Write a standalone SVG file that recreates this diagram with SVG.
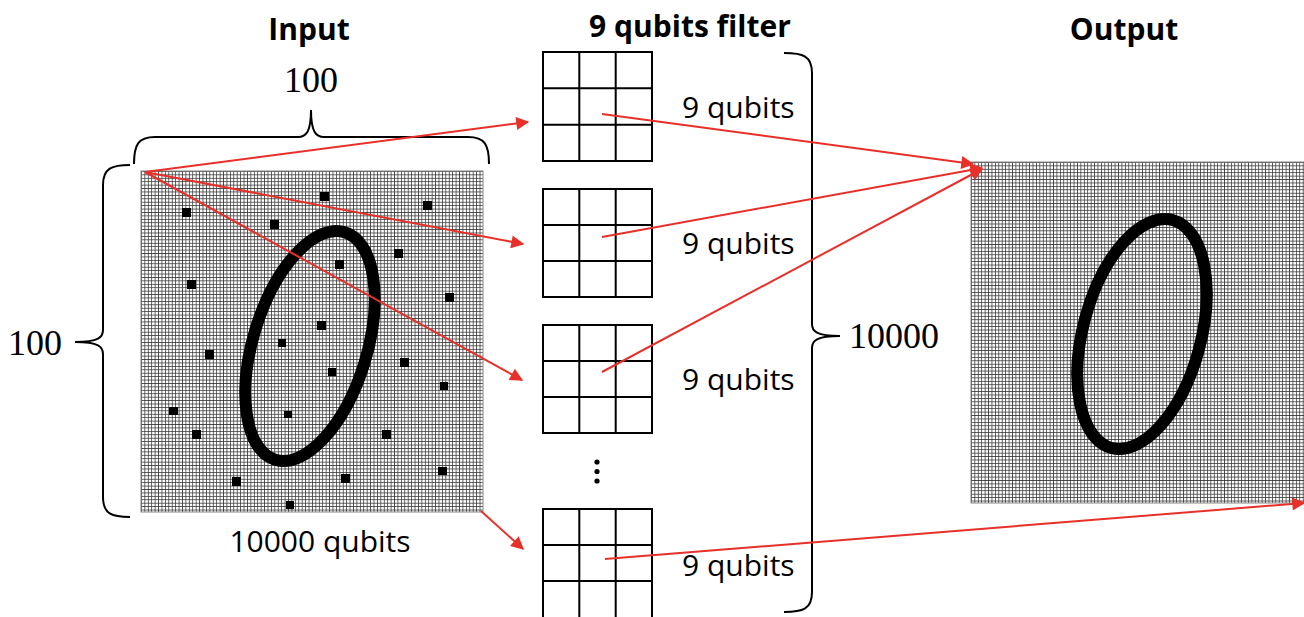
<svg xmlns="http://www.w3.org/2000/svg" width="1304" height="617" viewBox="0 0 1304 617">
<defs>
<pattern id="grid" patternUnits="userSpaceOnUse" width="3.42" height="3.42" x="141" y="171">
<path d="M0 0.4H3.42M0.4 0V3.42" stroke="#333" stroke-width="0.8" fill="none"/>
</pattern>
<pattern id="grid2" patternUnits="userSpaceOnUse" width="3.42" height="3.42" x="971" y="162">
<path d="M0 0.4H3.42M0.4 0V3.42" stroke="#333" stroke-width="0.8" fill="none"/>
</pattern>
<marker id="ah" viewBox="0 0 10 10" refX="9" refY="5" markerWidth="8" markerHeight="6.5" markerUnits="strokeWidth" orient="auto">
<path d="M0 0L10 5L0 10Z" fill="#e8302a"/>
</marker>
</defs>
<style>
.title{font-family:"Open Sans","Liberation Sans",sans-serif;font-weight:bold;font-size:30px;fill:#000;text-anchor:middle}
.lbl{font-family:"Open Sans","Liberation Sans",sans-serif;font-size:30px;fill:#000}
.num{font-family:"Liberation Serif","DejaVu Serif",serif;font-size:36px;fill:#000;text-anchor:middle}
.brace{fill:none;stroke:#000;stroke-width:2}
.fbox{fill:#fff;stroke:#000;stroke-width:2}
.arr{fill:none;stroke:#e8302a;stroke-width:2;marker-end:url(#ah)}
.px{fill:#000}
</style>
<rect width="1304" height="617" fill="#fff"/>

<g id="titles">
<text class="title" x="309" y="40">Input</text>
<text class="title" x="690" y="37">9 qubits filter</text>
<text class="title" x="1124" y="40">Output</text>
</g>

<g id="input">
<rect x="141" y="171" width="342" height="341" fill="url(#grid)" stroke="#888" stroke-width="1"/>
<ellipse cx="310" cy="346" rx="57" ry="119" transform="rotate(17 310 346)" fill="none" stroke="#000" stroke-width="12"/>
<g class="px">
<rect x="182" y="208" width="9" height="9"/>
<rect x="320" y="192" width="9" height="9"/>
<rect x="423" y="201" width="9" height="9"/>
<rect x="270" y="220" width="9" height="9"/>
<rect x="394" y="249" width="9" height="9"/>
<rect x="335" y="260" width="9" height="9"/>
<rect x="187" y="280" width="9" height="9"/>
<rect x="445" y="293" width="9" height="9"/>
<rect x="317" y="321" width="9" height="9"/>
<rect x="278" y="339" width="8" height="8"/>
<rect x="205" y="350" width="9" height="9"/>
<rect x="400" y="358" width="9" height="9"/>
<rect x="328" y="368" width="8" height="8"/>
<rect x="440" y="382" width="8" height="8"/>
<rect x="169" y="407" width="9" height="8"/>
<rect x="284" y="411" width="8" height="7"/>
<rect x="192" y="430" width="9" height="9"/>
<rect x="382" y="430" width="9" height="9"/>
<rect x="232" y="477" width="9" height="9"/>
<rect x="341" y="474" width="9" height="9"/>
<rect x="438" y="467" width="9" height="8"/>
<rect x="286" y="501" width="8" height="8"/>
</g>
<text class="lbl" x="320" y="552" text-anchor="middle">10000 qubits</text>
</g>

<g id="brace-top">
<path class="brace" d="M134,164 C134,145 138,137 155,137 L298,137 C306,137 311,132 311,110 C311,132 316,137 324,137 L468,137 C485,137 489,145 489,164"/>
<text class="num" x="311" y="92">100</text>
</g>

<g id="brace-left">
<path class="brace" d="M130,165 C112,165 103,168 103,185 L103,330 C103,337 99,342 75,342 C99,342 103,347 103,354 L103,497 C103,514 112,517 130,517"/>
<text class="num" x="35" y="355">100</text>
</g>

<g id="filter1">
<rect class="fbox" x="543" y="52" width="109" height="109"/>
<path class="brace" d="M579.3,52V161M615.7,52V161M543,88.3H652M543,124.7H652"/>
<text class="lbl" x="682" y="118">9 qubits</text>
</g>
<g id="filter2">
<rect class="fbox" x="543" y="189" width="109" height="108"/>
<path class="brace" d="M579.3,189V297M615.7,189V297M543,225H652M543,261H652"/>
<text class="lbl" x="682" y="254">9 qubits</text>
</g>
<g id="filter3">
<rect class="fbox" x="543" y="325" width="109" height="108"/>
<path class="brace" d="M579.3,325V433M615.7,325V433M543,361H652M543,397H652"/>
<text class="lbl" x="682" y="390">9 qubits</text>
</g>
<g id="dots">
<circle cx="597" cy="462" r="2.6" fill="#000"/>
<circle cx="597" cy="471.5" r="2.6" fill="#000"/>
<circle cx="597" cy="481" r="2.6" fill="#000"/>
</g>
<g id="filter4">
<rect class="fbox" x="543" y="509" width="109" height="112"/>
<path class="brace" d="M579.3,509V617M615.7,509V617M543,545H652M543,581H652"/>
<text class="lbl" x="682" y="576">9 qubits</text>
</g>

<g id="brace-right">
<path class="brace" d="M784,53 C803,53 812,56 812,73 L812,324 C812,331 816,336 840,336 C816,336 812,341 812,348 L812,592 C812,609 803,612 784,612"/>
<text class="num" x="894" y="348">10000</text>
</g>

<g id="output">
<rect x="971" y="162" width="340" height="341" fill="url(#grid2)" stroke="#888" stroke-width="1"/>
<ellipse cx="1142" cy="334" rx="59" ry="118" transform="rotate(15 1142 334)" fill="none" stroke="#000" stroke-width="12"/>
</g>

<g id="connectors">
<path class="arr" d="M145,172 L528,122"/>
<path class="arr" d="M145,172 L523,244"/>
<path class="arr" d="M145,172 L522,380"/>
<path class="arr" d="M481,511 L523,549"/>
<path class="arr" d="M602,114 L973,164"/>
<path class="arr" d="M602,237 L982,168"/>
<path class="arr" d="M602,372 L982,169"/>
<path class="arr" d="M605,559 L1304,503"/>
</g>
</svg>
